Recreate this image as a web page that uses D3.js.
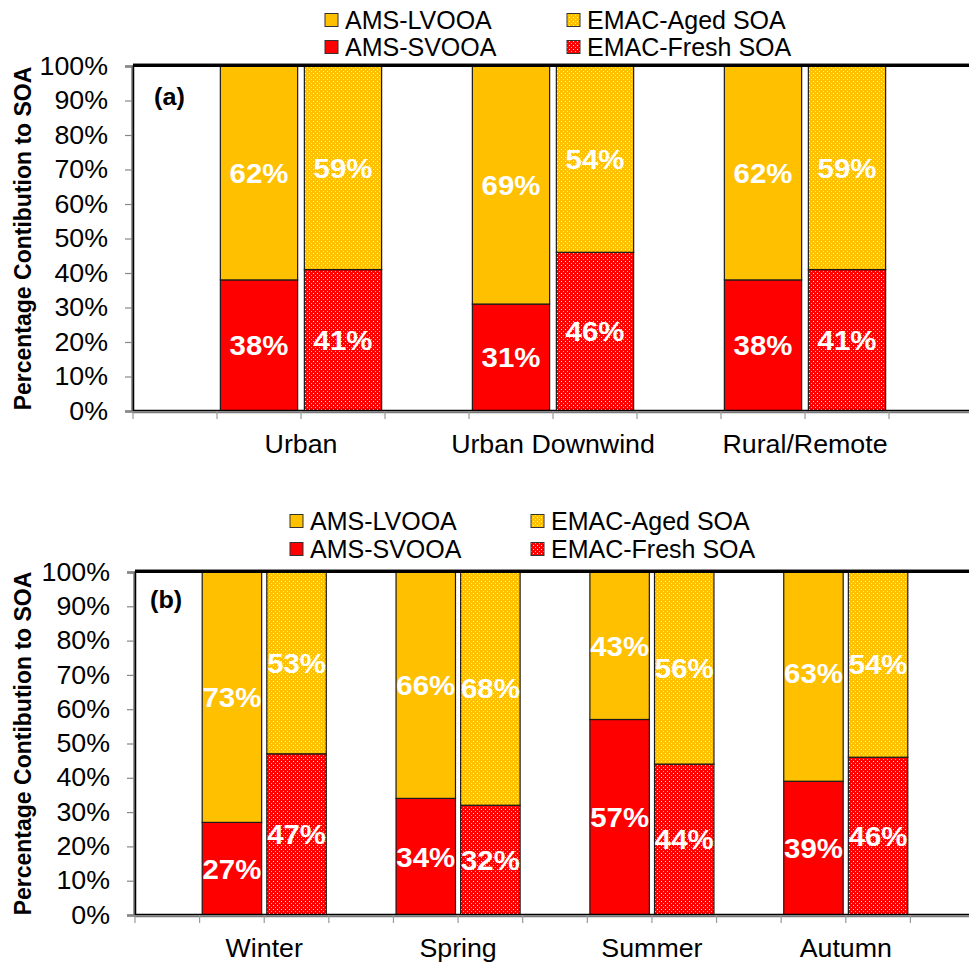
<!DOCTYPE html>
<html>
<head>
<meta charset="utf-8">
<script src="https://cdn.jsdelivr.net/npm/d3@7"></script>
<style>
  html, body { margin: 0; padding: 0; background: #fff; }
  svg { display: block; font-family: "Liberation Sans", Arial, sans-serif; }
</style>
</head>
<body>
<svg id="chart" width="969" height="967"></svg>
<script>
// Panel (a): site types
const sites = ["Urban", "Urban Downwind", "Rural/Remote"];
const amsSvooaSites = [38, 31, 38];
const amsLvooaSites = [62, 69, 62];
const emacFreshSites = [41, 46, 41];
const emacAgedSites = [59, 54, 59];

// Panel (b): seasons
const seasons = ["Winter", "Spring", "Summer", "Autumn"];
const amsSvooaSeasons = [27, 34, 57, 39];
const amsLvooaSeasons = [73, 66, 43, 63];
const emacFreshSeasons = [47, 32, 44, 46];
const emacAgedSeasons = [53, 68, 56, 54];

const yTicks = [0, 10, 20, 30, 40, 50, 60, 70, 80, 90, 100];
const legendItems = [
  { name: "AMS-LVOOA", fill: "#FFC000", dotted: false },
  { name: "AMS-SVOOA", fill: "#FF0000", dotted: false },
  { name: "EMAC-Aged SOA", fill: "#FFC000", dotted: true },
  { name: "EMAC-Fresh SOA", fill: "#FF0000", dotted: true }
];

const YELLOW = "#FFC000", RED = "#FF0000";
const STRETCH = 1.05; // glyphs are drawn slightly wide
const svg = d3.select("#chart");

// dotted fills for the model (EMAC) bars
const defs = svg.append("defs");
[["dotYellow", YELLOW], ["dotRed", RED]].forEach(([id, col]) => {
  const p = defs.append("pattern").attr("id", id)
    .attr("patternUnits", "userSpaceOnUse").attr("width", 4).attr("height", 4);
  p.append("rect").attr("width", 4).attr("height", 4).attr("fill", col).attr("shape-rendering", "crispEdges");
  p.append("rect").attr("x", 1).attr("y", 1).attr("width", 1).attr("height", 1)
    .attr("fill", "#fff").attr("shape-rendering", "crispEdges");
  p.append("rect").attr("x", 3).attr("y", 3).attr("width", 1).attr("height", 1)
    .attr("fill", "#fff").attr("opacity", 0.7).attr("shape-rendering", "crispEdges");
});
const fillFor = (col, dotted) => dotted ? (col === YELLOW ? "url(#dotYellow)" : "url(#dotRed)") : col;

// place a text node at (x, y) with a mild horizontal stretch
function placeText(sel, x, y, s = STRETCH) {
  return sel.attr("transform", `translate(${x},${y}) scale(${s},1)`);
}

function drawPanel(cfg) {
  const { cats, svoo, lvoo, fresh, aged, left, right, top, bottom, tag, legend, labelBase, id } = cfg;

  // slot sequence: gap, AMS, EMAC per category, then a trailing gap
  const slots = [];
  cats.forEach((c, i) => { slots.push("gap" + i, c + "|AMS", c + "|EMAC"); });
  slots.push("gapEnd");

  const x = d3.scaleBand().domain(slots).range([left, right]).paddingInner(0.08).paddingOuter(0.04);
  const y = d3.scaleLinear().domain([0, 100]).range([bottom, top]);
  const step = x.step();

  const g = svg.append("g");

  // legend
  const lg = g.append("g");
  legendItems.forEach((it, i) => {
    const col = i < 2 ? 0 : 1;
    const row = i % 2;
    const bx = legend.x[col], cy = legend.y[row];
    lg.append("rect").attr("x", bx).attr("y", cy - 6.5).attr("width", 13).attr("height", 13)
      .attr("fill", fillFor(it.fill, it.dotted)).attr("stroke", "#333").attr("stroke-width", 1);
    placeText(lg.append("text"), bx + 20, cy, 1).attr("dy", "0.35em")
      .attr("font-size", 25).attr("fill", "#000").text(it.name);
  });

  // bars
  const clipId = "clip" + id;
  defs.append("clipPath").attr("id", clipId).append("rect")
    .attr("x", left).attr("y", top - 2).attr("width", right - left).attr("height", bottom - top + 2);
  const bars = g.append("g").attr("clip-path", `url(#${clipId})`);
  const labels = g.append("g");

  const segs = [];
  cats.forEach((c, i) => {
    segs.push({ slot: c + "|AMS", y0: 0, y1: svoo[i], v: svoo[i], col: RED, dotted: false });
    segs.push({ slot: c + "|AMS", y0: svoo[i], y1: svoo[i] + lvoo[i], v: lvoo[i], col: YELLOW, dotted: false });
    segs.push({ slot: c + "|EMAC", y0: 0, y1: fresh[i], v: fresh[i], col: RED, dotted: true });
    segs.push({ slot: c + "|EMAC", y0: fresh[i], y1: fresh[i] + aged[i], v: aged[i], col: YELLOW, dotted: true });
  });

  bars.selectAll("rect").data(segs).join("rect")
    .attr("x", d => x(d.slot))
    .attr("width", x.bandwidth())
    .attr("y", d => y(d.y1))
    .attr("height", d => y(d.y0) - y(d.y1))
    .attr("fill", d => fillFor(d.col, d.dotted))
    .attr("stroke", "#1a1a1a").attr("stroke-width", 1.2);

  labels.selectAll("text").data(segs).join("text")
    .each(function (d) {
      placeText(d3.select(this), x(d.slot) + x.bandwidth() / 2, y((d.y0 + d.y1) / 2));
    })
    .attr("dy", "0.35em")
    .attr("text-anchor", "middle")
    .attr("font-size", 28).attr("font-weight", "bold").attr("fill", "#fff")
    .text(d => d.v + "%");

  // plot frame
  g.append("line").attr("x1", left).attr("x2", 969).attr("y1", top - 0.5).attr("y2", top - 0.5)
    .attr("stroke", "#000").attr("stroke-width", 3);
  g.append("line").attr("x1", left).attr("x2", 969).attr("y1", top - 2.5).attr("y2", top - 2.5)
    .attr("stroke", "#888").attr("stroke-width", 1);
  g.append("line").attr("x1", left + 1).attr("x2", 969).attr("y1", bottom - 0.5).attr("y2", bottom - 0.5)
    .attr("stroke", "#000").attr("stroke-width", 1.5);

  // y axis
  const yAxis = d3.axisLeft(y).tickValues(yTicks).tickFormat(d => d + "%").tickSize(7).tickPadding(0);
  const ya = g.append("g").attr("transform", `translate(${left - 1},0)`).call(yAxis);
  ya.select(".domain").attr("stroke", "#777").attr("stroke-width", 2.5);
  ya.selectAll(".tick line").attr("stroke", "#888").attr("stroke-width", 1.2);
  ya.selectAll(".tick text")
    .attr("x", null)
    .attr("transform", `translate(-24,0) scale(${STRETCH},1)`)
    .attr("font-size", 25.5).attr("fill", "#000")
    .attr("font-family", "'Liberation Sans', Arial, sans-serif");
  g.append("line").attr("x1", left + 0.5).attr("x2", left + 0.5).attr("y1", top - 1).attr("y2", bottom)
    .attr("stroke", "#000").attr("stroke-width", 1.5);

  // x axis: ticks at slot boundaries
  const bounds = d3.range(slots.length + 1).map(i => left + i * step);
  const xa = g.append("g");
  xa.append("line").attr("x1", left - 1).attr("x2", 969).attr("y1", bottom + 1.2).attr("y2", bottom + 1.2)
    .attr("stroke", "#777").attr("stroke-width", 2);
  xa.selectAll("line.tk").data(bounds).join("line").attr("class", "tk")
    .attr("x1", d => d).attr("x2", d => d).attr("y1", bottom).attr("y2", bottom + 8)
    .attr("stroke", "#999").attr("stroke-width", 1.2);
  xa.selectAll("text").data(cats).join("text")
    .each(function (c) {
      placeText(d3.select(this), x(c + "|EMAC") - (step - x.bandwidth()) / 2, labelBase);
    })
    .attr("text-anchor", "middle").attr("font-size", 25.5).attr("fill", "#000")
    .text(c => c);

  // y title
  g.append("text")
    .attr("transform", `translate(31,${(top + bottom) / 2}) rotate(-90)`)
    .attr("text-anchor", "middle").attr("font-size", 23).attr("font-weight", "bold").attr("fill", "#000")
    .text("Percentage Contibution to SOA");

  // panel tag
  placeText(g.append("text"), tag.x, tag.y).attr("dy", "0.35em")
    .attr("font-size", 24).attr("font-weight", "bold").attr("fill", "#000").text(tag.t);
}

drawPanel({
  id: "a", cats: sites, svoo: amsSvooaSites, lvoo: amsLvooaSites, fresh: emacFreshSites, aged: emacAgedSites,
  left: 133, right: 973, top: 66, bottom: 411,
  tag: { x: 154, y: 97, t: "(a)" },
  legend: { x: [325, 567], y: [20, 47] },
  labelBase: 453
});

drawPanel({
  id: "b", cats: seasons, svoo: amsSvooaSeasons, lvoo: amsLvooaSeasons, fresh: emacFreshSeasons, aged: emacAgedSeasons,
  left: 135, right: 975, top: 572, bottom: 915,
  tag: { x: 150, y: 600, t: "(b)" },
  legend: { x: [290, 531], y: [521, 549] },
  labelBase: 957
});
</script>
</body>
</html>
